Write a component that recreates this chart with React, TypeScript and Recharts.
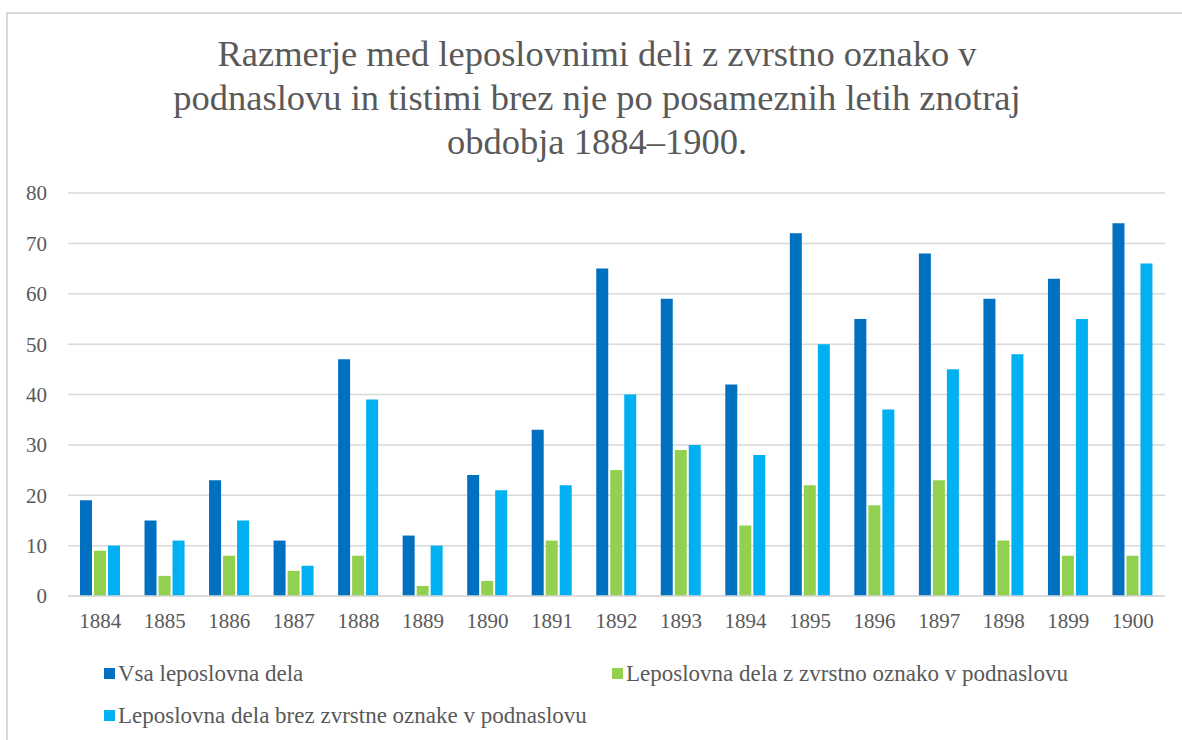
import { BarChart, Bar, XAxis, YAxis, CartesianGrid } from 'recharts'

const YEARS = ['1884', '1885', '1886', '1887', '1888', '1889', '1890', '1891', '1892', '1893', '1894', '1895', '1896', '1897', '1898', '1899', '1900']
const ALL = [19, 15, 23, 11, 47, 12, 24, 33, 65, 59, 42, 72, 55, 68, 59, 63, 74]
const WITH_LABEL = [9, 4, 8, 5, 8, 2, 3, 11, 25, 29, 14, 22, 18, 23, 11, 8, 8]
const WITHOUT_LABEL = [10, 11, 15, 6, 39, 10, 21, 22, 40, 30, 28, 50, 37, 45, 48, 55, 66]
const Y_TICKS = [0, 10, 20, 30, 40, 50, 60, 70, 80]

const TITLE = [
  'Razmerje med leposlovnimi deli z zvrstno oznako v',
  'podnaslovu in tistimi brez nje po posameznih letih znotraj',
  'obdobja 1884–1900.',
]

const SERIES = [
  { key: 'all', name: 'Vsa leposlovna dela', color: '#0070C0' },
  { key: 'withLabel', name: 'Leposlovna dela z zvrstno oznako v podnaslovu', color: '#92D050' },
  { key: 'withoutLabel', name: 'Leposlovna dela brez zvrstne oznake v podnaslovu', color: '#00B0F0' },
]

const data = YEARS.map((year, i) => ({
  year,
  all: ALL[i],
  withLabel: WITH_LABEL[i],
  withoutLabel: WITHOUT_LABEL[i],
}))

const FONT = '"Liberation Serif", "DejaVu Serif", serif'
const TEXT = '#595959'
const GRID = '#d9d9d9'

// legend slots, laid out like the Excel two-column legend
const LEGEND_POS = [
  { left: 104, top: 660 },
  { left: 612, top: 660 },
  { left: 104, top: 702 },
]

function ExcelLegend() {
  return (
    <div style={{ position: 'absolute', left: 0, top: 0, width: 1182, height: 740, pointerEvents: 'none' }}>
      {SERIES.map((s, i) => (
        <div
          key={s.key}
          style={{
            position: 'absolute',
            left: LEGEND_POS[i].left,
            top: LEGEND_POS[i].top,
            display: 'flex',
            alignItems: 'center',
            fontFamily: FONT,
            fontSize: 23,
            color: TEXT,
            whiteSpace: 'nowrap',
            lineHeight: '27px',
          }}
        >
          <span style={{ display: 'inline-block', width: 11, height: 11, background: s.color, marginRight: 3 }} />
          {s.name}
        </div>
      ))}
    </div>
  )
}

export default function App() {
  return (
    <div style={{ position: 'absolute', left: 0, top: 0, width: 1182, height: 740, background: '#fff', overflow: 'hidden' }}>
      <div
        style={{
          position: 'absolute',
          left: 6,
          top: 12,
          width: 1176,
          height: 728,
          boxSizing: 'border-box',
          borderLeft: `2px solid ${GRID}`,
          borderTop: `2px solid ${GRID}`,
        }}
      />
      <div
        style={{
          position: 'absolute',
          left: 0,
          top: 32,
          width: 1194,
          textAlign: 'center',
          fontFamily: FONT,
          fontSize: 36.5,
          lineHeight: '44px',
          color: TEXT,
        }}
      >
        {TITLE.map((t) => (
          <div key={t}>{t}</div>
        ))}
      </div>
      <div style={{ position: 'absolute', left: 0, top: 0 }}>
        <BarChart
          width={1182}
          height={740}
          data={data}
          margin={{ top: 193, right: 17, left: 8, bottom: 114 }}
          barSize={12}
          barGap={2}
        >
          <CartesianGrid horizontal vertical={false} stroke={GRID} strokeWidth={1.5} />
          <XAxis
            dataKey="year"
            tickLine={false}
            axisLine={{ stroke: GRID, strokeWidth: 1.5 }}
            tickSize={0}
            tickMargin={17}
            tick={{ fill: TEXT, fontSize: 21, fontFamily: FONT }}
            interval={0}
            height={30}
          />
          <YAxis
            width={60}
            domain={[0, 80]}
            ticks={Y_TICKS}
            tickLine={false}
            axisLine={false}
            tickSize={0}
            tickMargin={21}
            tick={{ fill: TEXT, fontSize: 21, fontFamily: FONT }}
          />
          {SERIES.map((s) => (
            <Bar key={s.key} dataKey={s.key} name={s.name} fill={s.color} isAnimationActive={false} />
          ))}
        </BarChart>
      </div>
      <ExcelLegend />
    </div>
  )
}
